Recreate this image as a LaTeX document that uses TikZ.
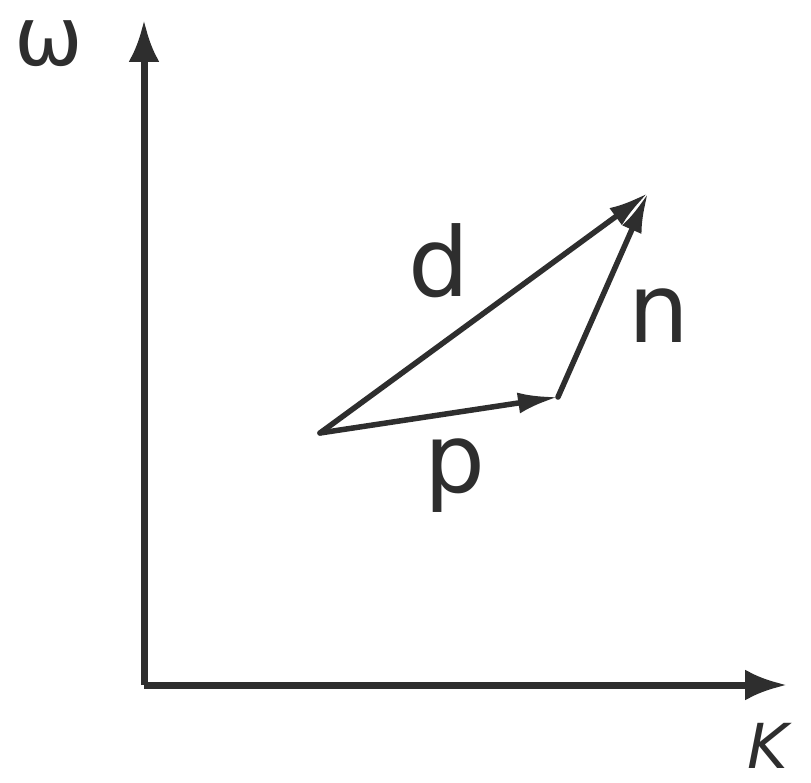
\documentclass[tikz,border=0pt]{standalone}
\usepackage{fontspec}
\setmainfont{DejaVu Sans}
\newfontfamily\labfont{DejaVu Sans}
\usetikzlibrary{arrows.meta}
\definecolor{ink}{gray}{0.18}
\tikzset{
  axisline/.style={draw=ink, line width=7pt, line join=miter, -{Latex[length=42pt,width=31pt]}},
  vecline/.style={draw=ink, line width=5.5pt, line cap=round, line join=round, -{Latex[length=40pt,width=21pt]}},
  lab/.style={text=ink, inner sep=0pt, font=\labfont\fontsize{96}{96}\selectfont},
  axlab/.style={text=ink, inner sep=0pt}
}
\begin{document}
\begin{tikzpicture}[x=1pt,y=-1pt]
\useasboundingbox (0,0) rectangle (811,783);
\fill[white] (0,0) rectangle (811,783);
% axes
\coordinate (O) at (144,685);
\coordinate (Ytop) at (144,20);
\coordinate (Xend) at (787,685);
\draw[axisline] (O) -- (Ytop);
\draw[axisline] (O) -- (Xend);
% axis labels
\node[axlab, anchor=base, font=\labfont\fontsize{82}{82}\selectfont] (w) at (49,66) {ω};
\node[axlab, anchor=base, font=\labfont\itshape\fontsize{62}{62}\selectfont] (K) at (768,768) {K};
% triangle
\coordinate (A) at (320,433);
\coordinate (B) at (558,397);
\coordinate (C) at (648,193);
\draw[vecline] (A) -- (B);
\draw[vecline] (B) -- (C);
\draw[vecline] (A) -- (C);
% vector labels
\node[lab, anchor=base] (d) at (439,297) {d};
\node[lab, anchor=base] (n) at (659,343) {n};
\node[lab, anchor=base] (p) at (455,492) {p};
\end{tikzpicture}
\end{document}
